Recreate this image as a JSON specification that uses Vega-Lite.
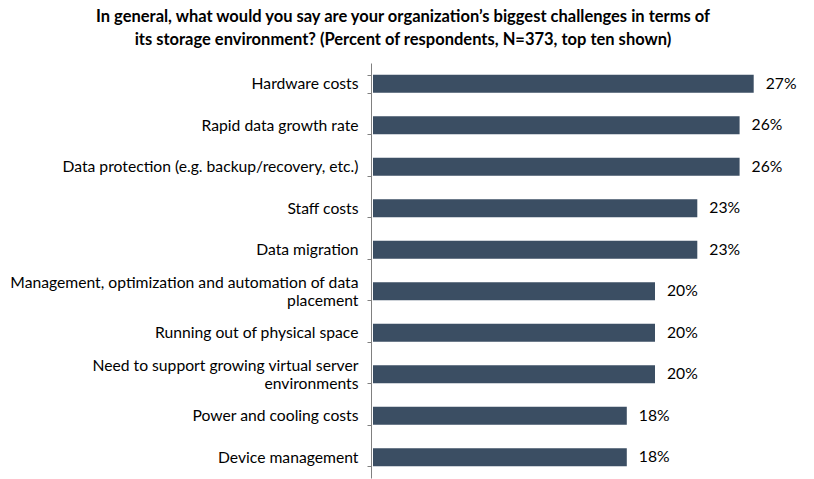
{
  "$schema": "https://vega.github.io/schema/vega-lite/v6.json",
  "width": 423,
  "height": 415,
  "autosize": {"type": "none"},
  "padding": {"left": 373, "top": 63, "right": 18, "bottom": 1},
  "background": "white",
  "title": {
    "text": ["In general, what would you say are your organization’s biggest challenges in terms of", "its storage environment? (Percent of respondents, N=373, top ten shown)"],
    "anchor": "middle",
    "frame": "bounds",
    "font": "Lato",
    "fontSize": 16.5,
    "fontWeight": "bold",
    "color": "#000000",
    "lineHeight": 23,
    "offset": 7
  },
  "data": {
    "values": [
      {"label": "Hardware costs", "value": 27, "pct": "27%"},
      {"label": "Rapid data growth rate", "value": 26, "pct": "26%"},
      {"label": "Data protection (e.g. backup/recovery, etc.)", "value": 26, "pct": "26%"},
      {"label": "Staff costs", "value": 23, "pct": "23%"},
      {"label": "Data migration", "value": 23, "pct": "23%"},
      {"label": "Management, optimization and automation of data|placement", "value": 20, "pct": "20%"},
      {"label": "Running out of physical space", "value": 20, "pct": "20%"},
      {"label": "Need to support growing virtual server|environments", "value": 20, "pct": "20%"},
      {"label": "Power and cooling costs", "value": 18, "pct": "18%"},
      {"label": "Device management", "value": 18, "pct": "18%"}
    ]
  },
  "encoding": {
    "y": {
      "field": "label",
      "type": "nominal",
      "sort": null,
      "scale": {"paddingInner": 0.57, "paddingOuter": 0.285},
      "axis": {
        "title": null,
        "labelExpr": "datum.value ? split(datum.value, '|') : ''",
        "labelFont": "Lato",
        "labelFontSize": 15.7,
        "labelColor": "#000000",
        "labelLineHeight": 18,
        "labelOffset": {"condition": {"test": "datum.value && indexof(datum.value, '|') >= 0", "value": -9}, "value": 0},
        "labelPadding": 9,
        "labelLimit": 400,
        "tickBand": "extent",
        "tickSize": 4,
        "tickWidth": 1,
        "tickColor": "#808080",
        "domainColor": "#808080",
        "domainWidth": 1,
        "offset": 2,
        "ticks": true,
        "grid": false
      }
    },
    "x": {
      "field": "value",
      "type": "quantitative",
      "scale": {"domain": [0, 30]},
      "axis": null
    }
  },
  "layer": [
    {"mark": {"type": "bar", "color": "#3b4e63"}},
    {
      "mark": {"type": "text", "align": "left", "dx": 12, "font": "Lato", "fontSize": 15.7, "color": "#000000"},
      "encoding": {"text": {"field": "pct", "type": "nominal"}}
    }
  ],
  "config": {"view": {"stroke": null}}
}
